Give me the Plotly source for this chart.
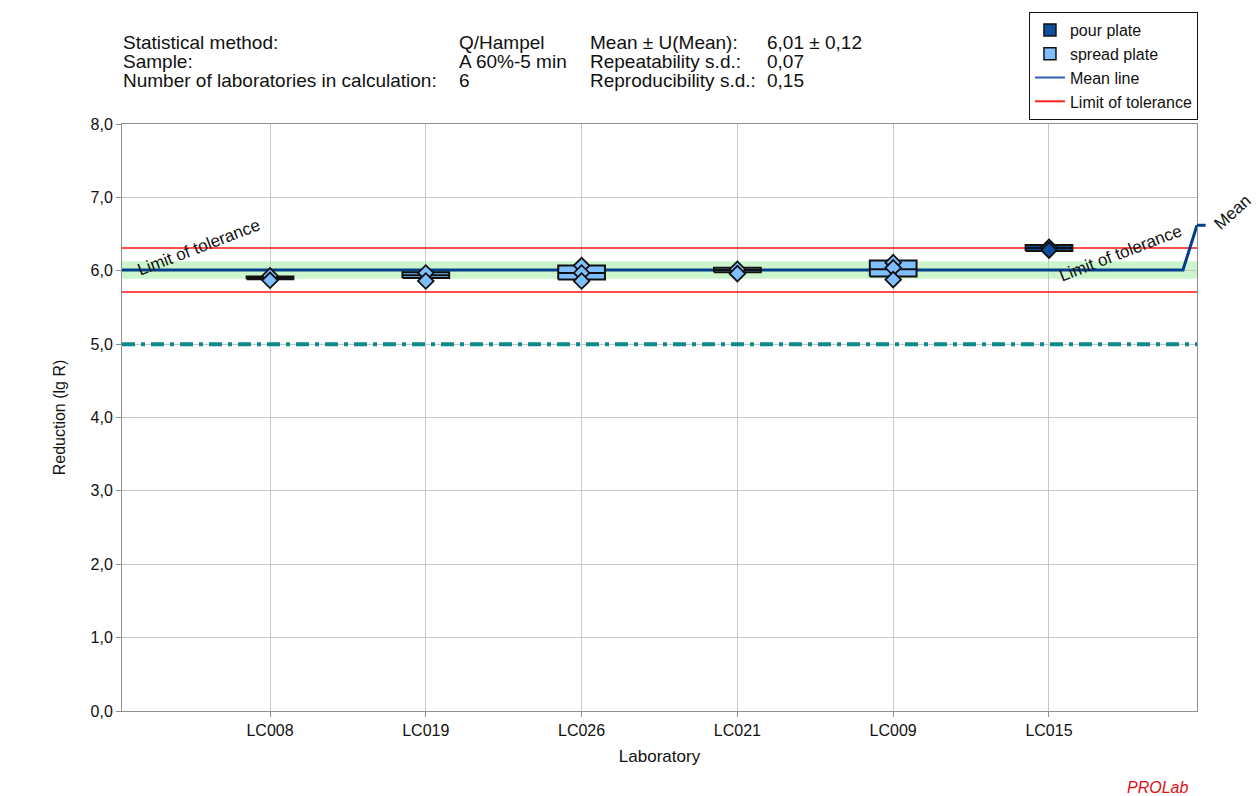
import plotly.graph_objects as go

# ---------------- data ----------------
labs = ["LC008", "LC019", "LC026", "LC021", "LC009", "LC015"]
methods = ["spread plate", "spread plate", "spread plate", "spread plate", "spread plate", "pour plate"]
values = [
    [5.93, 5.87],
    [5.97, 5.86],
    [6.07, 5.97, 5.86],
    [6.02, 5.96],
    [6.11, 6.04, 5.88],
    [6.32, 6.28],
]
box_q1 = [5.885, 5.90, 5.88, 5.98, 5.92, 6.27]
box_median = [5.90, 5.94, 5.97, 6.01, 6.02, 6.31]
box_q3 = [5.92, 5.98, 6.07, 6.04, 6.14, 6.35]

mean_value = 6.01
mean_u = 0.12
tolerance_low = 5.71
tolerance_high = 6.31
reference_line = 5.0
mean_label_y = 6.62

y_ticks = [0, 1, 2, 3, 4, 5, 6, 7, 8]

header_left_labels = ["Statistical method:", "Sample:", "Number of laboratories in calculation:"]
header_left_values = ["Q/Hampel", "A 60%-5 min", "6"]
header_right_labels = ["Mean ± U(Mean):", "Repeatability s.d.:", "Reproducibility s.d.:"]
header_right_values = ["6,01 ± 0,12", "0,07", "0,15"]

# ---------------- style ----------------
FONT = "Liberation Sans, Arial, sans-serif"
POUR = "#0b4f9e"
SPREAD = "#80bfff"
MEAN_C = "#003f8a"
X_MIN, X_MAX = -0.95, 5.95
BOX_W = 0.3

fig = go.Figure()
colors = {"pour plate": POUR, "spread plate": SPREAD}

# legend entries for the plate types (bar icons, no data drawn)
for m in ["pour plate", "spread plate"]:
    fig.add_trace(go.Bar(x=[None], y=[None], name=m, marker=dict(
        color=colors[m], line=dict(color="#111111", width=1.5)), legendrank=1 if m == "pour plate" else 2))

# reference dash-dot line
fig.add_trace(go.Scatter(x=[X_MIN, X_MAX], y=[reference_line, reference_line], mode="lines",
                         line=dict(color="#0a8a8a", width=4, dash="13px,6px,4px,6px"),
                         showlegend=False, hoverinfo="skip"))

# tolerance lines
for t in [tolerance_low, tolerance_high]:
    fig.add_trace(go.Scatter(x=[X_MIN, X_MAX], y=[t, t], mode="lines",
                             line=dict(color="#ff1010", width=1.6),
                             showlegend=False, hoverinfo="skip"))

# mean line with kink to label
fig.add_trace(go.Scatter(x=[X_MIN, 5.86, X_MAX], y=[mean_value, mean_value, mean_label_y], mode="lines",
                         line=dict(color=MEAN_C, width=3),
                         showlegend=False, hoverinfo="skip"))

# boxes as filled polygons (drawn above the mean line)
for m in ["pour plate", "spread plate"]:
    xs, ys = [], []
    for i, mm in enumerate(methods):
        if mm != m:
            continue
        l, r = i - BOX_W / 2, i + BOX_W / 2
        xs += [l, r, r, l, l, None, l, r, None]
        ys += [box_q1[i], box_q1[i], box_q3[i], box_q3[i], box_q1[i], None,
               box_median[i], box_median[i], None]
    fig.add_trace(go.Scatter(
        x=xs, y=ys, mode="lines", fill="toself", fillcolor=colors[m],
        line=dict(color="#111111", width=2), name=m, hoverinfo="skip", showlegend=False,
    ))

# legend-only line items
fig.add_trace(go.Scatter(x=[None], y=[None], mode="lines",
                         line=dict(color="#2e5fa8", width=2), name="Mean line", legendrank=3))
fig.add_trace(go.Scatter(x=[None], y=[None], mode="lines",
                         line=dict(color="#ff2020", width=2), name="Limit of tolerance", legendrank=4))

# individual values (diamonds)
for i, vals in enumerate(values):
    fig.add_trace(go.Scatter(
        x=[i] * len(vals), y=vals, mode="markers",
        marker=dict(symbol="diamond", size=12, color=colors[methods[i]],
                    line=dict(color="#111111", width=1.8)),
        showlegend=False, hoverinfo="skip", cliponaxis=False,
    ))

# green band for U(mean)
fig.add_shape(type="rect", xref="paper", yref="y", x0=0, x1=1,
              y0=mean_value - mean_u, y1=mean_value + mean_u,
              fillcolor="#cdf5cd", line=dict(width=0), layer="below")
# stub of mean label leader
fig.add_shape(type="line", xref="paper", yref="paper", x0=1.0, x1=1.008,
              y0=mean_label_y / 8, y1=mean_label_y / 8,
              line=dict(color=MEAN_C, width=3))

annotations = []
rows_y = [1.1388, 1.1065, 1.0741]
for cx, col in [(-0.0009, header_left_labels), (0.3116, header_left_values),
                (0.4335, header_right_labels), (0.5981, header_right_values)]:
    for ry, txt in zip(rows_y, col):
        annotations.append(dict(xref="paper", yref="paper", x=cx, y=ry, text=txt,
                                showarrow=False, xanchor="left", yanchor="middle",
                                font=dict(family=FONT, size=19, color="#111111")))

annotations += [
    dict(x=-0.457, y=6.32, text="Limit of tolerance", textangle=-21, showarrow=False,
         font=dict(family=FONT, size=17, color="#111111")),
    dict(x=5.457, y=6.23, text="Limit of tolerance", textangle=-21, showarrow=False,
         font=dict(family=FONT, size=17, color="#111111")),
    dict(xref="paper", yref="paper", x=1.0326, y=0.850, text="Mean", textangle=-42,
         xanchor="center", yanchor="middle",
         showarrow=False, font=dict(family=FONT, size=17, color="#111111")),
    dict(xref="paper", yref="paper", x=0.9935, y=-0.13, text="<i>PROLab</i>", showarrow=False,
         xanchor="right", yanchor="middle", font=dict(family=FONT, size=16, color="#e01010")),
]

fig.update_layout(
    width=1257, height=796,
    margin=dict(l=122, r=60, t=124, b=85),
    paper_bgcolor="white", plot_bgcolor="white",
    separators=",.",
    font=dict(family=FONT, size=16, color="#111111"),
    showlegend=True,
    legend=dict(x=1.0009, xanchor="right", y=1.1908, yanchor="top",
                bordercolor="#111111", borderwidth=1, bgcolor="white",
                font=dict(family=FONT, size=16), traceorder="normal",
                itemwidth=30, tracegroupgap=0),
    annotations=annotations,
    xaxis=dict(range=[X_MIN, X_MAX], tickmode="array", tickvals=list(range(len(labs))),
               ticktext=labs, showgrid=True, gridcolor="#c8c8c8", gridwidth=1,
               zeroline=False, showline=True, linecolor="#909090", mirror=True,
               ticks="outside", ticklen=5, tickcolor="#909090",
               title=dict(text="Laboratory", standoff=11, font=dict(size=17)),
               tickfont=dict(size=16)),
    yaxis=dict(range=[0, 8], tickmode="array", tickvals=y_ticks, tickformat=".1f",
               showgrid=True, gridcolor="#c8c8c8", gridwidth=1,
               zeroline=False, showline=True, linecolor="#909090", mirror=True,
               ticks="outside", ticklen=5, tickcolor="#909090",
               title=dict(text="Reduction (lg R)", standoff=20, font=dict(size=16)),
               tickfont=dict(size=16)),
)

fig.write_html("out.html")
